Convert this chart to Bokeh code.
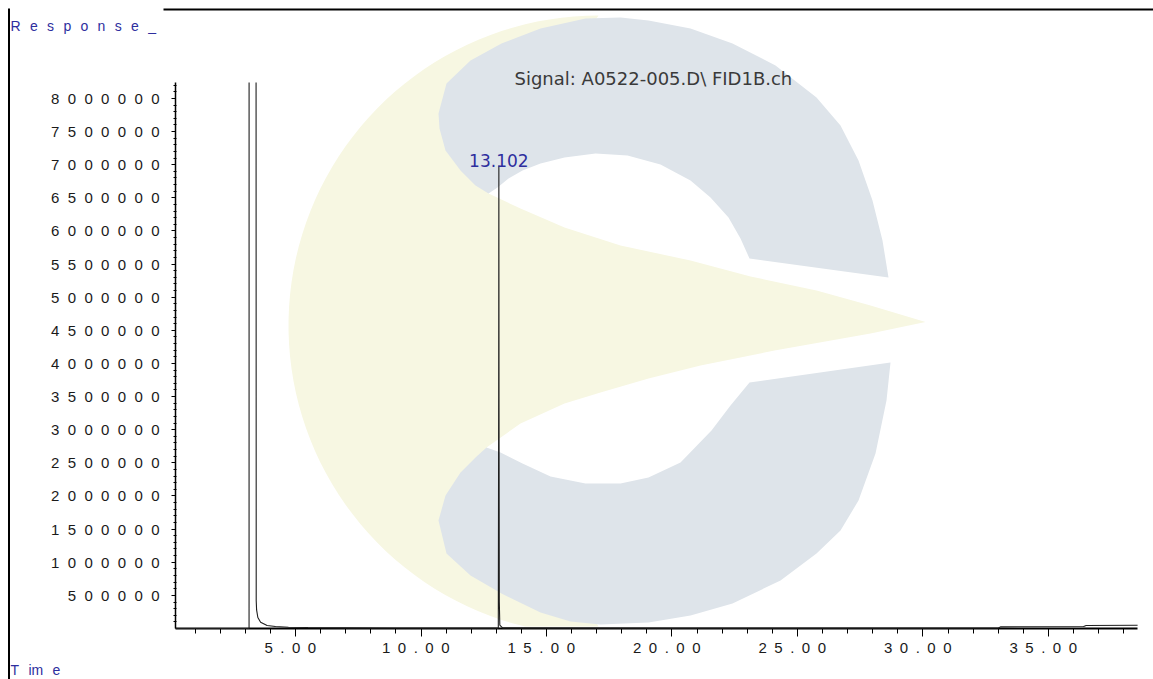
import numpy as np
from bokeh.plotting import figure
from bokeh.models import Range1d, FixedTicker, Label, PolyAnnotation, ColumnDataSource
from bokeh.embed import file_html
from bokeh.resources import INLINE
from bokeh.core.properties import value

# ---------------- data ----------------
OFF = 8.24e6   # off-scale: solvent peak leaves the top of the plotted range
nan = float("nan")
time_min = [0.22, 3.15, 3.151, 3.29, 3.429, 3.435, 3.45, 3.50, 3.61, 3.87, 4.20, 4.72,
            5.50, 7.00, 9.00, 11.00, 13.08, 13.095, 13.102, 13.108, 13.12, 13.14,
            13.25, 20.0, 30.0, 33.0, 33.1, 36.4, 36.5, 38.55]
response = [0, 0, OFF, nan, OFF, 4.2e5, 2.8e5, 1.66e5, 9.5e4, 4.5e4, 3.0e4, 2.0e4,
            1.4e4, 1.0e4, 8e3, 6e3, 6e3, 3.5e6, 6.99e6, 3.5e6, 4.0e5, 5e4,
            1e4, 6e3, 6e3, 8e3, 2.5e4, 3e4, 4.5e4, 5e4]

peak_rt = [13.102]
peak_height = [6.99e6]
peak_label = ["13.102"]

x_major = [5, 10, 15, 20, 25, 30, 35]
x_major_labels = ["5.00", "10.00", "15.00", "20.00", "25.00", "30.00", "35.00"]
x_minor = [t for t in range(1, 39) if t % 5 != 0]

y_major = [500000, 1000000, 1500000, 2000000, 2500000, 3000000, 3500000, 4000000,
           4500000, 5000000, 5500000, 6000000, 6500000, 7000000, 7500000, 8000000]
y_major_labels = ["500000", "1000000", "1500000", "2000000", "2500000", "3000000",
                  "3500000", "4000000", "4500000", "5000000", "5500000", "6000000",
                  "6500000", "7000000", "7500000", "8000000"]
y_minor = [v for v in range(100000, 8200001, 100000) if v % 500000 != 0]

title_text = "Signal: A0522-005.D\\ FID1B.ch"
y_title = "Response_"
x_title = "Time"

# ---------------- layout constants (canvas pixels) ----------------
W, H = 1153, 679
FL, FT, FR, FB = 175, 82, 1137, 628   # extent of the axes box
x0, x1 = 0.219, 38.546                # time at left / right end of the x axis
y0, y1 = 0.0, 8.2415e6                # response at bottom / top of the y axis


def px_x(X):
    return x0 + (X - FL) * (x1 - x0) / (FR - FL)


def px_y(Y):
    return y0 + (FB - Y) * (y1 - y0) / (FB - FT)


def spaced(s, sep):
    return sep.join(list(s))


BLUE_TXT = "#2e2e9e"

p = figure(width=W, height=H, x_range=Range1d(px_x(0), px_x(W)),
           y_range=Range1d(px_y(H), px_y(0)),
           output_backend="svg", toolbar_location=None, min_border=0)
p.title.visible = False
p.background_fill_color = "white"
p.border_fill_color = "white"
p.outline_line_color = None
p.xgrid.visible = False
p.ygrid.visible = False

# ---------------- watermark (decoration) ----------------
CX, CY, R = 598.0, 325.0, 310.0
th = np.linspace(-np.pi / 2, -3 * np.pi / 2, 80)
arcX = CX + R * np.cos(th)
arcY = np.minimum(CY + R * np.sin(th), 626.0)
yellow_pts = list(zip(arcX, arcY)) + [
    (560, 560), (486, 447), (520, 423), (564, 403), (600, 392), (648, 378), (700, 365),
    (774, 350), (870, 333), (925, 321.5), (870, 305), (816, 290), (750, 276), (690, 260),
    (620, 245), (564, 227), (520, 208), (488, 193), (540, 100)]
upper_blue = [
    (438, 113), (446, 83), (470, 60), (501, 43), (540, 28), (585, 18), (620, 17), (648, 20),
    (690, 28), (732, 43), (775, 65), (816, 97), (840, 125), (858, 160), (872, 200),
    (882, 240), (888, 277), (749, 258), (740, 238), (728, 217), (710, 197), (690, 180),
    (660, 164), (627, 155), (595, 153), (564, 157), (540, 163), (522, 170), (508, 178),
    (497, 187), (488, 193), (475, 185), (460, 170), (445, 150), (439, 128)]
lower_blue = [
    (438, 520), (445, 495), (460, 472), (475, 457), (486, 447), (500, 452), (522, 463),
    (550, 476), (585, 483), (620, 483), (648, 477), (680, 462), (711, 430), (730, 405),
    (749, 382), (890, 362), (886, 400), (875, 453), (858, 500), (840, 530), (816, 553),
    (780, 580), (732, 603), (690, 615), (648, 622), (600, 624), (570, 621), (540, 612),
    (501, 593), (470, 575), (446, 553)]

for pts, col in [(yellow_pts, "#f7f7e2"), (upper_blue, "#dee4ea"), (lower_blue, "#dee4ea")]:
    p.add_layout(PolyAnnotation(xs=[px_x(a) for a, b in pts], ys=[px_y(b) for a, b in pts],
                                fill_color=col, fill_alpha=1.0, line_color=None))

# page border lines
for (xa_, xb_, ya_, yb_) in [(7.5, 9.5, 8, 690), (163, 1160, 8, 10)]:
    p.add_layout(PolyAnnotation(xs=[px_x(xa_), px_x(xb_), px_x(xb_), px_x(xa_)],
                                ys=[px_y(ya_), px_y(ya_), px_y(yb_), px_y(yb_)],
                                fill_color="black", fill_alpha=1.0, line_color=None))

# ---------------- data line ----------------
src = ColumnDataSource(data=dict(t=np.array(time_min, dtype=float),
                                 r=np.array(response, dtype=float)))
p.line(x="t", y="r", source=src, line_color="#1e1e1e", line_width=1.1, level="overlay")
p.text(x=peak_rt, y=peak_height, text=peak_label, text_font=value("DejaVu Sans"),
       text_font_size="17px", text_color=BLUE_TXT, text_align="center",
       text_baseline="alphabetic", y_offset=-5, level="overlay")

# ---------------- axes (fixed at the box edges) ----------------
xa = p.xaxis[0]
xa.fixed_location = y0
xa.bounds = (x0, x1)
xa.ticker = FixedTicker(ticks=x_major, minor_ticks=x_minor)
xa.major_label_overrides = {t: spaced(l, "\u2002") + "\u2002\u2009"
                            for t, l in zip(x_major, x_major_labels)}
xa.axis_line_width = 2
xa.axis_line_color = "black"
xa.major_tick_out = 8
xa.major_tick_in = 0
xa.minor_tick_out = 5
xa.minor_tick_in = 0
xa.major_tick_line_color = "black"
xa.minor_tick_line_color = "black"
xa.major_label_standoff = 2
xa.major_label_text_font = "Liberation Sans"
xa.major_label_text_font_size = "15px"
xa.major_label_text_color = "#1a1a1a"

ya = p.yaxis[0]
ya.fixed_location = x0
ya.bounds = (y0, y1)
ya.ticker = FixedTicker(ticks=y_major, minor_ticks=y_minor)
ya.major_label_overrides = {t: spaced(l, "\u2007") for t, l in zip(y_major, y_major_labels)}
ya.axis_line_width = 1.5
ya.axis_line_color = "black"
ya.major_tick_out = 4
ya.major_tick_in = 0
ya.minor_tick_out = 2
ya.minor_tick_in = 1
ya.major_tick_line_color = "black"
ya.minor_tick_line_color = "black"
ya.major_label_standoff = 12
ya.major_label_text_font = "Liberation Sans"
ya.major_label_text_font_size = "15px"
ya.major_label_text_color = "#1a1a1a"

# ---------------- texts ----------------
p.add_layout(Label(x=px_x(514), y=px_y(78.3), text=title_text, text_font="DejaVu Sans",
                   text_font_size="18px", text_color="#3a3a3a", text_baseline="alphabetic",
                   text_align="left"))
p.add_layout(Label(x=px_x(10), y=px_y(25), text=spaced(y_title, "\u2002\u2006"),
                   text_font="Liberation Sans", text_font_size="14px", text_color=BLUE_TXT,
                   text_baseline="alphabetic", text_align="left"))
p.add_layout(Label(x=px_x(10), y=px_y(669), text="T\u2002\u2006im\u2002\u2006e",
                   text_font="Liberation Sans", text_font_size="14px", text_color=BLUE_TXT,
                   text_baseline="alphabetic", text_align="left"))

open("out.html", "w").write(file_html(p, INLINE))
